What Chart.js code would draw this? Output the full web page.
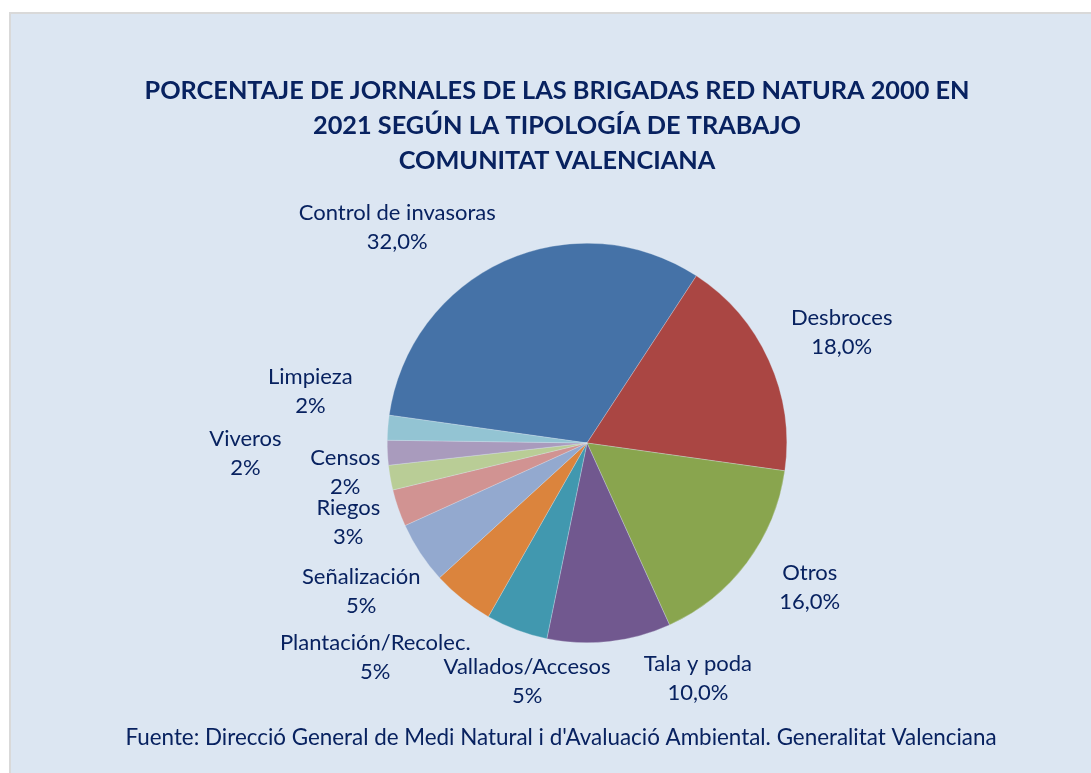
<!DOCTYPE html>
<html>
<head>
<meta charset="utf-8">
<script src="https://cdn.jsdelivr.net/npm/chart.js"></script>
<style>
  html, body { margin: 0; padding: 0; background: #ffffff; }
  canvas { display: block; }
</style>
</head>
<body>
<canvas id="myChart" width="1091" height="773"></canvas>
<script>
let categories = [
  "Control de invasoras", "Desbroces", "Otros", "Tala y poda", "Vallados/Accesos",
  "Plantación/Recolec.", "Señalización", "Riegos", "Censos", "Viveros", "Limpieza"
];
let valores = [32, 18, 16, 10, 5, 5, 5, 3, 2, 2, 2];
let etiquetas = ["32,0%", "18,0%", "16,0%", "10,0%", "5%", "5%", "5%", "3%", "2%", "2%", "2%"];
let colores = [
  "#4572A7", "#AA4643", "#89A54E", "#71588F", "#4198AF",
  "#DB843D", "#93A9CF", "#D19392", "#B9CD96", "#A99BBD", "#93C4D3"
];
let titulo = [
  "PORCENTAJE DE JORNALES DE LAS BRIGADAS RED NATURA 2000 EN",
  "2021 SEGÚN LA TIPOLOGÍA DE TRABAJO",
  "COMUNITAT VALENCIANA"
];
let fuente = "Fuente: Direcció General de Medi Natural i d'Avaluació Ambiental. Generalitat Valenciana";

// where each label sits, in units of the pie radius from the centre
let posEtiquetas = [
  [-0.95, -1.08], [1.275, -0.555], [1.115, 0.725], [0.555, 1.18], [-0.30, 1.195],
  [-1.06, 1.075], [-1.13, 0.745], [-1.195, 0.40], [-1.21, 0.145], [-1.71, 0.05], [-1.385, -0.26]
];

const azul = "#082260";

let fondo = {
  id: "fondo",
  beforeDraw(chart) {
    let c = chart.ctx;
    c.save();
    c.fillStyle = "#ffffff";
    c.fillRect(0, 0, chart.width, chart.height);
    c.fillStyle = "#DCE6F2";
    c.fillRect(10, 13, chart.width, chart.height);
    c.strokeStyle = "#D9D9D9";
    c.lineWidth = 2;
    c.beginPath();
    c.moveTo(10, chart.height + 5);
    c.lineTo(10, 13);
    c.lineTo(chart.width + 5, 13);
    c.stroke();
    c.restore();
  }
};

let textos = {
  id: "textos",
  afterDatasetsDraw(chart) {
    let c = chart.ctx;
    c.save();
    c.fillStyle = azul;
    c.textAlign = "center";
    c.textBaseline = "middle";

    c.font = "bold 25.3px Lato";
    titulo.forEach((t, i) => c.fillText(t, 557, 91 + i * 35));

    c.font = "22px Lato";
    let arcs = chart.getDatasetMeta(0).data;
    arcs.forEach((arc, i) => {
      let r = arc.outerRadius;
      let x = arc.x + posEtiquetas[i][0] * r;
      let y = arc.y + posEtiquetas[i][1] * r;
      c.fillText(categories[i], x, y - 14.5);
      c.fillText(etiquetas[i], x, y + 14.5);
    });

    c.font = "22.4px Lato";
    c.fillText(fuente, 561, 738);
    c.restore();
  }
};

let ctx = document.getElementById("myChart");

let chartt = new Chart(ctx, {
  type: "pie",
  data: {
    labels: categories,
    datasets: [
      {
        data: valores,
        backgroundColor: colores,
        borderColor: "rgba(220,230,242,0.6)",
        borderWidth: 0.5,
      },
    ],
  },
  options: {
    responsive: false,
    animation: false,
    rotation: -82,
    layout: {
      padding: { top: 243, bottom: 130, left: 287, right: 204 },
    },
    plugins: {
      legend: { display: false },
      tooltip: { enabled: false },
    },
  },
  plugins: [fondo, textos],
});
</script>
</body>
</html>
